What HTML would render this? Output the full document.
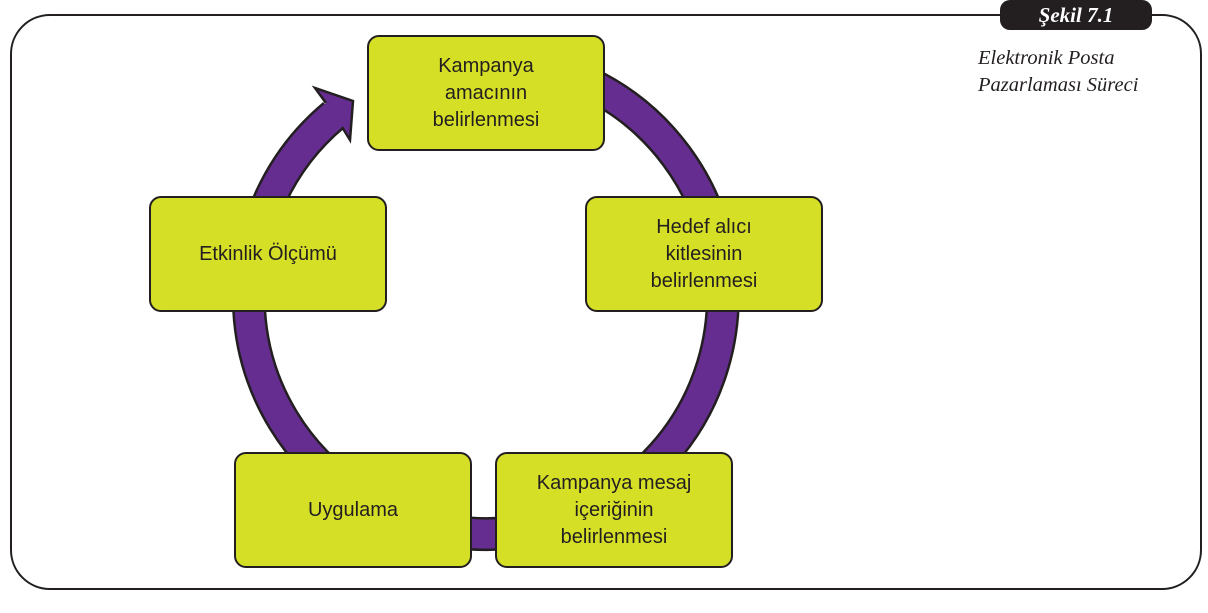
<!DOCTYPE html>
<html><head><meta charset="utf-8"><style>
body{margin:0;width:1208px;height:613px;background:#fff;position:relative;overflow:hidden;font-family:"Liberation Sans",sans-serif}
.frame{position:absolute;left:10px;top:14px;width:1192px;height:576px;border:2px solid #231f20;border-radius:40px;box-sizing:border-box}
.tab{position:absolute;left:1000px;top:0;width:152px;height:30px;background:#231f20;border-radius:10px;color:#fff;font:italic bold 21px "Liberation Serif",serif;text-align:center;line-height:30px}
.cap{position:absolute;left:978px;top:45px;font:italic 20.5px "Liberation Serif",serif;color:#231f20;line-height:27px}
.box{position:absolute;width:238px;height:116px;background:#d5df26;border:2px solid #231f20;border-radius:12px;box-sizing:border-box;display:flex;align-items:center;justify-content:center;text-align:center;font-size:20px;line-height:27px;color:#231f20}
svg{position:absolute;left:0;top:0}
</style></head><body>
<div class="frame"></div>
<div class="tab">Şekil 7.1</div>
<div class="cap">Elektronik Posta<br>Pazarlaması Süreci</div>
<svg width="1208" height="613">
<path d="M486 60 A237 237 0 1 1 334 115" fill="none" stroke="#231f20" stroke-width="34"/>
<path d="M486 60 A237 237 0 1 1 334 115" fill="none" stroke="#662d91" stroke-width="29"/>
<polygon points="326,103 315,88 353,101 350,140 342,127 330,123 320,110" fill="#662d91"/>
<polyline points="326,103 315,88 353,101 350,140 342,127" fill="none" stroke="#231f20" stroke-width="2.5" stroke-linejoin="miter"/>
</svg>
<div class="box" style="left:367px;top:35px">Kampanya<br>amacının<br>belirlenmesi</div>
<div class="box" style="left:585px;top:196px">Hedef alıcı<br>kitlesinin<br>belirlenmesi</div>
<div class="box" style="left:495px;top:452px">Kampanya mesaj<br>içeriğinin<br>belirlenmesi</div>
<div class="box" style="left:234px;top:452px">Uygulama</div>
<div class="box" style="left:149px;top:196px">Etkinlik Ölçümü</div>
</body></html>
